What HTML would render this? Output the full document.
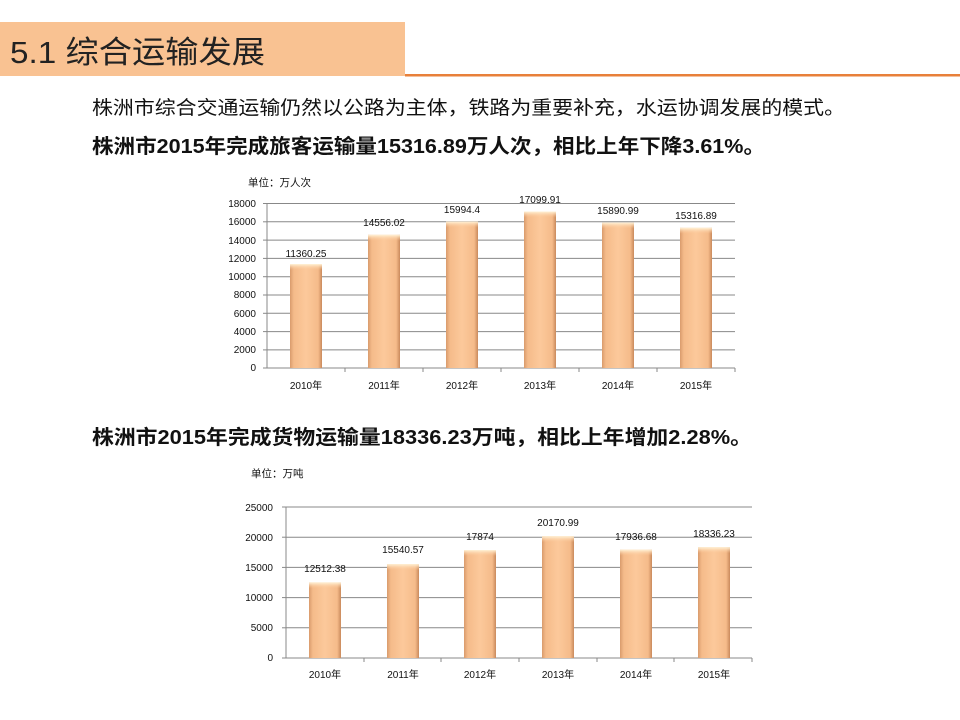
<!DOCTYPE html>
<html><head><meta charset="utf-8"><style>
html,body{margin:0;padding:0;background:#fff;}
svg{display:block}
text{font-family:"Liberation Sans","Noto Sans CJK SC",sans-serif;}
</style></head><body>
<svg width="960" height="720" viewBox="0 0 960 720" xmlns="http://www.w3.org/2000/svg">
<defs>
<linearGradient id="bar" x1="0" y1="0" x2="1" y2="0">
<stop offset="0" stop-color="#d99b6c"/>
<stop offset="0.12" stop-color="#f5bb8a"/>
<stop offset="0.5" stop-color="#fcc99b"/>
<stop offset="0.88" stop-color="#f5bb8a"/>
<stop offset="1" stop-color="#c98a5c"/>
</linearGradient>
<linearGradient id="cap" x1="0" y1="0" x2="0" y2="1">
<stop offset="0" stop-color="#fff3d8"/>
<stop offset="1" stop-color="#fcc99b" stop-opacity="0"/>
</linearGradient>
</defs>
<rect x="0" y="22" width="405" height="54" fill="#f9c292"/>
<rect x="405" y="74" width="555" height="2.5" fill="#e8803a"/>
<text x="10" y="63" font-size="31" fill="#222" textLength="255" lengthAdjust="spacingAndGlyphs">5.1 综合运输发展</text>
<text x="92" y="114" font-size="19" fill="#111" textLength="753" lengthAdjust="spacingAndGlyphs">株洲市综合交通运输仍然以公路为主体，铁路为重要补充，水运协调发展的模式。</text>
<text x="92" y="153" font-size="20" font-weight="bold" fill="#111" textLength="673" lengthAdjust="spacingAndGlyphs">株洲市2015年完成旅客运输量15316.89万人次，相比上年下降3.61%。</text>
<text x="92" y="444" font-size="20" font-weight="bold" fill="#111" textLength="660" lengthAdjust="spacingAndGlyphs">株洲市2015年完成货物运输量18336.23万吨，相比上年增加2.28%。</text>

<!-- chart 1 -->
<g font-size="10" fill="#111">
<text x="248" y="186" font-size="10.5">单位：万人次</text>
<g stroke="#888" stroke-width="1">
<line x1="267" y1="203.5" x2="735" y2="203.5"/><line x1="267" y1="221.8" x2="735" y2="221.8"/>
<line x1="267" y1="240.1" x2="735" y2="240.1"/><line x1="267" y1="258.4" x2="735" y2="258.4"/>
<line x1="267" y1="276.7" x2="735" y2="276.7"/><line x1="267" y1="295" x2="735" y2="295"/>
<line x1="267" y1="313.3" x2="735" y2="313.3"/><line x1="267" y1="331.6" x2="735" y2="331.6"/>
<line x1="267" y1="349.9" x2="735" y2="349.9"/><line x1="267" y1="368" x2="735" y2="368"/>
<line x1="267" y1="203" x2="267" y2="368"/>
<line x1="263" y1="203.5" x2="267" y2="203.5"/><line x1="263" y1="221.8" x2="267" y2="221.8"/><line x1="263" y1="240.1" x2="267" y2="240.1"/><line x1="263" y1="258.4" x2="267" y2="258.4"/><line x1="263" y1="276.7" x2="267" y2="276.7"/><line x1="263" y1="295" x2="267" y2="295"/><line x1="263" y1="313.3" x2="267" y2="313.3"/><line x1="263" y1="331.6" x2="267" y2="331.6"/><line x1="263" y1="349.9" x2="267" y2="349.9"/><line x1="263" y1="368" x2="267" y2="368"/>
<line x1="345" y1="368" x2="345" y2="372"/><line x1="423" y1="368" x2="423" y2="372"/><line x1="501" y1="368" x2="501" y2="372"/><line x1="579" y1="368" x2="579" y2="372"/><line x1="657" y1="368" x2="657" y2="372"/><line x1="735" y1="368" x2="735" y2="372"/>
</g>
<g text-anchor="end">
<text x="256" y="207">18000</text><text x="256" y="225">16000</text><text x="256" y="244">14000</text><text x="256" y="262">12000</text><text x="256" y="280">10000</text><text x="256" y="298">8000</text><text x="256" y="317">6000</text><text x="256" y="335">4000</text><text x="256" y="353">2000</text><text x="256" y="371">0</text>
</g>
<g text-anchor="middle">
<text x="306" y="389">2010年</text><text x="384" y="389">2011年</text><text x="462" y="389">2012年</text><text x="540" y="389">2013年</text><text x="618" y="389">2014年</text><text x="696" y="389">2015年</text>
</g>
<g>
<rect x="290" y="264" width="32" height="104" fill="url(#bar)"/><rect x="290" y="264" width="32" height="6" fill="url(#cap)"/>
<rect x="368" y="234.8" width="32" height="133.2" fill="url(#bar)"/><rect x="368" y="234.8" width="32" height="6" fill="url(#cap)"/>
<rect x="446" y="221.6" width="32" height="146.4" fill="url(#bar)"/><rect x="446" y="221.6" width="32" height="6" fill="url(#cap)"/>
<rect x="524" y="211.5" width="32" height="156.5" fill="url(#bar)"/><rect x="524" y="211.5" width="32" height="6" fill="url(#cap)"/>
<rect x="602" y="222.6" width="32" height="145.4" fill="url(#bar)"/><rect x="602" y="222.6" width="32" height="6" fill="url(#cap)"/>
<rect x="680" y="227.8" width="32" height="140.2" fill="url(#bar)"/><rect x="680" y="227.8" width="32" height="6" fill="url(#cap)"/>
</g>
<g text-anchor="middle">
<text x="306" y="257">11360.25</text><text x="384" y="226">14556.02</text><text x="462" y="213">15994.4</text><text x="540" y="203">17099.91</text><text x="618" y="214">15890.99</text><text x="696" y="219">15316.89</text>
</g>
</g>

<!-- chart 2 -->
<g font-size="10" fill="#111">
<text x="251" y="477" font-size="10.5">单位：万吨</text>
<g stroke="#888" stroke-width="1">
<line x1="286" y1="507" x2="752" y2="507"/><line x1="286" y1="537.2" x2="752" y2="537.2"/>
<line x1="286" y1="567.4" x2="752" y2="567.4"/><line x1="286" y1="597.6" x2="752" y2="597.6"/>
<line x1="286" y1="627.8" x2="752" y2="627.8"/><line x1="286" y1="658" x2="752" y2="658"/>
<line x1="286" y1="507" x2="286" y2="658"/>
<line x1="282" y1="507" x2="286" y2="507"/><line x1="282" y1="537.2" x2="286" y2="537.2"/><line x1="282" y1="567.4" x2="286" y2="567.4"/><line x1="282" y1="597.6" x2="286" y2="597.6"/><line x1="282" y1="627.8" x2="286" y2="627.8"/><line x1="282" y1="658" x2="286" y2="658"/>
<line x1="364" y1="658" x2="364" y2="662"/><line x1="441" y1="658" x2="441" y2="662"/><line x1="519" y1="658" x2="519" y2="662"/><line x1="597" y1="658" x2="597" y2="662"/><line x1="674" y1="658" x2="674" y2="662"/><line x1="752" y1="658" x2="752" y2="662"/>
</g>
<g text-anchor="end">
<text x="273" y="511">25000</text><text x="273" y="541">20000</text><text x="273" y="571">15000</text><text x="273" y="601">10000</text><text x="273" y="631">5000</text><text x="273" y="661">0</text>
</g>
<g text-anchor="middle">
<text x="325" y="678">2010年</text><text x="403" y="678">2011年</text><text x="480" y="678">2012年</text><text x="558" y="678">2013年</text><text x="636" y="678">2014年</text><text x="714" y="678">2015年</text>
</g>
<g>
<rect x="309" y="582.4" width="32" height="75.6" fill="url(#bar)"/><rect x="309" y="582.4" width="32" height="6" fill="url(#cap)"/>
<rect x="387" y="564.1" width="32" height="93.9" fill="url(#bar)"/><rect x="387" y="564.1" width="32" height="6" fill="url(#cap)"/>
<rect x="464" y="550" width="32" height="108" fill="url(#bar)"/><rect x="464" y="550" width="32" height="6" fill="url(#cap)"/>
<rect x="542" y="536.2" width="32" height="121.8" fill="url(#bar)"/><rect x="542" y="536.2" width="32" height="6" fill="url(#cap)"/>
<rect x="620" y="549.7" width="32" height="108.3" fill="url(#bar)"/><rect x="620" y="549.7" width="32" height="6" fill="url(#cap)"/>
<rect x="698" y="547.2" width="32" height="110.8" fill="url(#bar)"/><rect x="698" y="547.2" width="32" height="6" fill="url(#cap)"/>
</g>
<g text-anchor="middle">
<text x="325" y="572">12512.38</text><text x="403" y="553">15540.57</text><text x="480" y="540">17874</text><text x="558" y="526">20170.99</text><text x="636" y="540">17936.68</text><text x="714" y="537">18336.23</text>
</g>
</g>
</svg>
</body></html>
